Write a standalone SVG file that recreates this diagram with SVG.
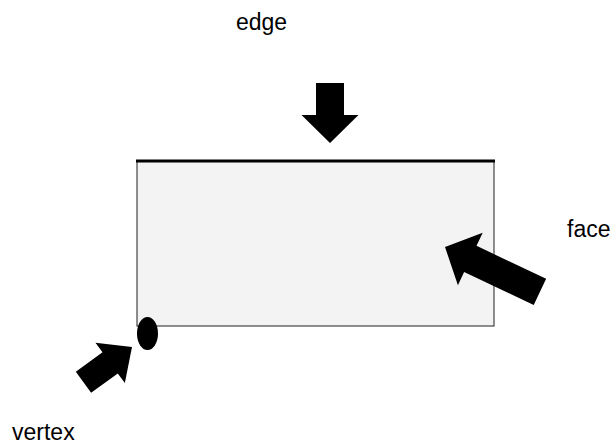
<svg xmlns="http://www.w3.org/2000/svg" width="612" height="447" viewBox="0 0 612 447">
<style>
.lbl{font-family:"Liberation Sans",Arial,sans-serif;font-size:23px;fill:#000}
.arr{fill:#000}
</style>
<rect width="612" height="447" fill="#fff"/>
<g id="face">
<rect x="137" y="161" width="357" height="165" fill="#f3f3f3" stroke="#444" stroke-width="1.2"/>
</g>
<g id="edge">
<line x1="136" y1="161" x2="495" y2="161" stroke="#000" stroke-width="3"/>
</g>
<g id="vertex">
<ellipse cx="147.5" cy="333.5" rx="10.5" ry="16.5" fill="#000"/>
</g>
<g id="connectors">
<polygon class="arr" transform="translate(330,143) rotate(90)" points="0,0 -28,-28.5 -28,-14 -60,-14 -60,14 -28,14 -28,28.5"/>
<polygon class="arr" transform="translate(445,247) rotate(205.3)" points="0,0 -28,-29 -28,-14.5 -105,-14.5 -105,14.5 -28,14.5 -28,29"/>
<polygon class="arr" transform="translate(132,347) rotate(-36)" points="0,0 -27,-25 -27,-13 -60,-13 -60,13 -27,13 -27,25"/>
</g>
<text class="lbl" x="236" y="30">edge</text>
<text class="lbl" x="567" y="237">face</text>
<text class="lbl" x="12" y="440">vertex</text>
</svg>
